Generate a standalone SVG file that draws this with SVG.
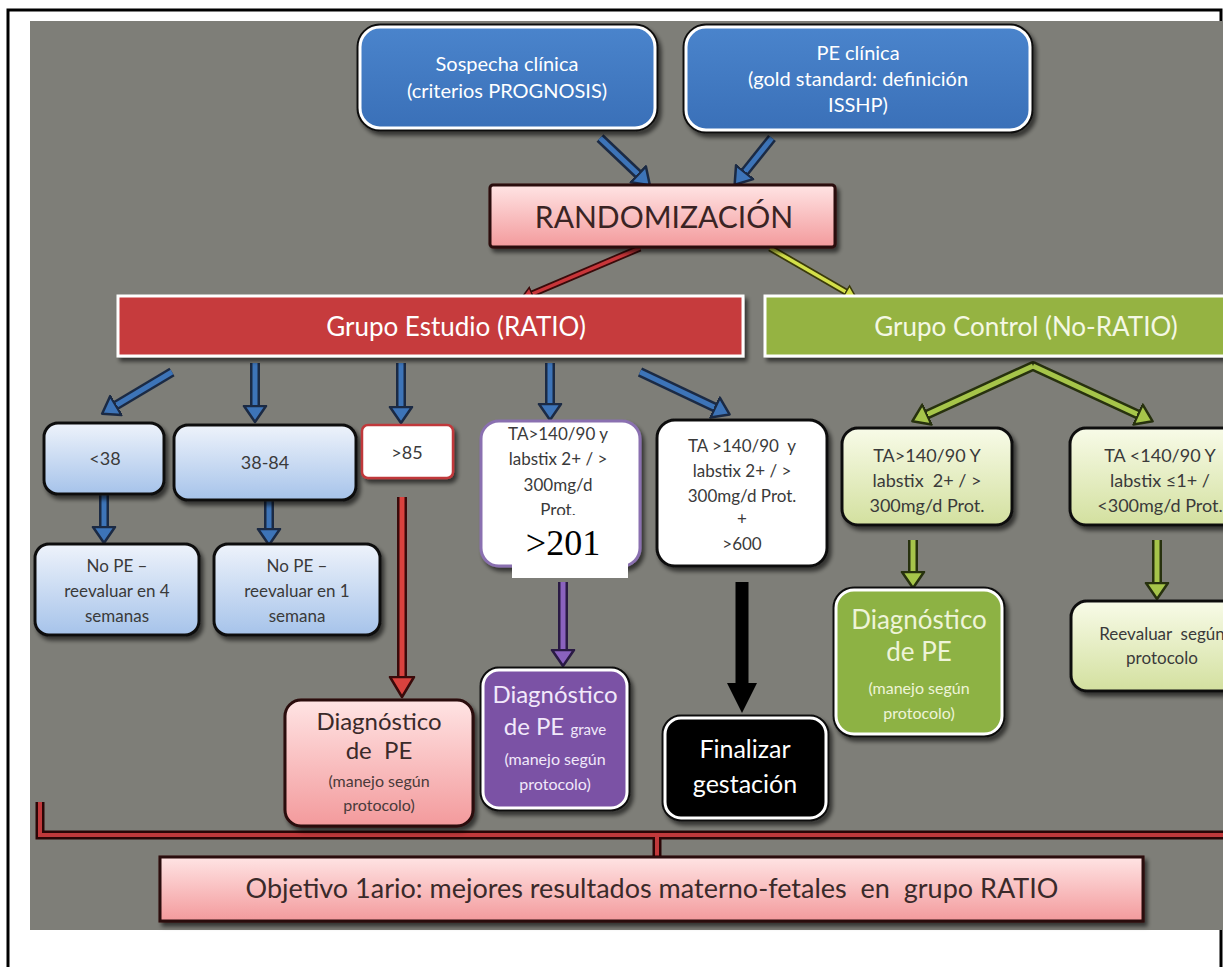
<svg xmlns="http://www.w3.org/2000/svg" width="1223" height="967" viewBox="0 0 1223 967">
<defs>
<style>
text{font-family:Lato,"Open Sans","DejaVu Sans",sans-serif;text-anchor:middle}
.ol{fill:none;stroke:#111;stroke-width:7}
.wb{stroke:#fff;stroke-width:3}
.tw{fill:#fff}
.td{fill:#3a3a3a}
.s20{font-size:20px}
.s18{font-size:18px}
.s17{font-size:17px}
.s16{font-size:16px}
.big{font-size:24px}
.sh{filter:url(#ds)}
.bo{fill:none;stroke:#1b2a44;stroke-width:10}
.bi{fill:none;stroke:#3d74b8;stroke-width:5}
.go{fill:none;stroke:#27310e;stroke-width:10}
.gi{fill:none;stroke:#a6c54a;stroke-width:5}
</style>
<filter id="ds" x="-10%" y="-10%" width="130%" height="140%">
<feDropShadow dx="3" dy="4" stdDeviation="2" flood-color="#000" flood-opacity="0.6"/>
</filter>
<linearGradient id="gPink" x1="0" y1="0" x2="0" y2="1"><stop offset="0" stop-color="#ffe4e4"/><stop offset="1" stop-color="#f39a9c"/></linearGradient>
<linearGradient id="gBlue" x1="0" y1="0" x2="0" y2="1"><stop offset="0" stop-color="#eef3fb"/><stop offset="1" stop-color="#a6c3ea"/></linearGradient>
<linearGradient id="gGreen" x1="0" y1="0" x2="0" y2="1"><stop offset="0" stop-color="#f8fbe8"/><stop offset="1" stop-color="#d3e09f"/></linearGradient>
<linearGradient id="gTop" x1="0" y1="0" x2="0" y2="1"><stop offset="0" stop-color="#4a84cc"/><stop offset="1" stop-color="#3a70b8"/></linearGradient>
<marker id="mBlue" markerUnits="userSpaceOnUse" markerWidth="26" markerHeight="26" viewBox="0 0 26 26" refX="2" refY="13" orient="auto"><path d="M1,2 L17,13 L1,24 z" fill="#3d74b8" stroke="#1b2a44" stroke-width="2.5" stroke-linejoin="round"/></marker>
<marker id="mGreen" markerUnits="userSpaceOnUse" markerWidth="26" markerHeight="26" viewBox="0 0 26 26" refX="2" refY="13" orient="auto"><path d="M1,2 L17,13 L1,24 z" fill="#a6c54a" stroke="#27310e" stroke-width="2.5" stroke-linejoin="round"/></marker>
<marker id="mPurple" markerUnits="userSpaceOnUse" markerWidth="26" markerHeight="26" viewBox="0 0 26 26" refX="2" refY="13" orient="auto"><path d="M1,2 L17,13 L1,24 z" fill="#8a62be" stroke="#2a1a44" stroke-width="2.5" stroke-linejoin="round"/></marker>
<marker id="mRedS" markerUnits="userSpaceOnUse" markerWidth="18" markerHeight="18" viewBox="0 0 18 18" refX="1" refY="9" orient="auto"><path d="M1,2 L13,9 L1,16 z" fill="#c8363a" stroke="#3a0a0a" stroke-width="1.5"/></marker>
<marker id="mYel" markerUnits="userSpaceOnUse" markerWidth="18" markerHeight="18" viewBox="0 0 18 18" refX="1" refY="9" orient="auto"><path d="M1,2 L13,9 L1,16 z" fill="#d4e04a" stroke="#3a3a0a" stroke-width="1.5"/></marker>
<marker id="mRed" markerUnits="userSpaceOnUse" markerWidth="30" markerHeight="30" viewBox="0 0 30 30" refX="2" refY="15" orient="auto"><path d="M1,3 L21,15 L1,27 z" fill="#d9423e" stroke="#3a0a0a" stroke-width="2.5" stroke-linejoin="round"/></marker>
<marker id="mBlack" markerUnits="userSpaceOnUse" markerWidth="36" markerHeight="36" viewBox="0 0 36 36" refX="2" refY="18" orient="auto"><path d="M1,3 L31,18 L1,33 z" fill="#000"/></marker>
</defs>

<!-- page frame -->
<rect x="0" y="0" width="1223" height="967" fill="#fff"/>
<rect x="30" y="21" width="1193" height="909" fill="#7e7e78"/>
<path d="M8,967 V10 H1221 V21 M1221,930 V967" fill="none" stroke="#000" stroke-width="3"/>

<!-- connectors -->
<g id="connectors">
<path class="bo" d="M600,138 L639,175"/><path class="bi" d="M600,138 L639,175" marker-end="url(#mBlue)"/>
<path class="bo" d="M772,138 L744,173"/><path class="bi" d="M772,138 L744,173" marker-end="url(#mBlue)"/>
<path d="M640,248 L532,294" fill="none" stroke="#3a0a0a" stroke-width="7"/><path d="M640,248 L532,294" fill="none" stroke="#c8363a" stroke-width="3.5" marker-end="url(#mRedS)"/>
<path d="M770,248 L846,292" fill="none" stroke="#3a3a0a" stroke-width="7"/><path d="M770,248 L846,292" fill="none" stroke="#d4e04a" stroke-width="3.5" marker-end="url(#mYel)"/>
<path class="bo" d="M172,372 L115,406"/><path class="bi" d="M172,372 L115,406" marker-end="url(#mBlue)"/>
<path class="bo" d="M255,363 V407"/><path class="bi" d="M255,363 V407" marker-end="url(#mBlue)"/>
<path class="bo" d="M401,363 V408"/><path class="bi" d="M401,363 V408" marker-end="url(#mBlue)"/>
<path class="bo" d="M550,363 V405"/><path class="bi" d="M550,363 V405" marker-end="url(#mBlue)"/>
<path class="bo" d="M640,372 L716,408"/><path class="bi" d="M640,372 L716,408" marker-end="url(#mBlue)"/>
<path class="bo" d="M104,494 V528"/><path class="bi" d="M104,494 V528" marker-end="url(#mBlue)"/>
<path class="bo" d="M269,500 V530"/><path class="bi" d="M269,500 V530" marker-end="url(#mBlue)"/>
<path d="M402,497 V678" fill="none" stroke="#3a0a0a" stroke-width="10"/><path d="M402,497 V678" fill="none" stroke="#d9423e" stroke-width="5" marker-end="url(#mRed)"/>
<path d="M563,582 V651" fill="none" stroke="#2a1a44" stroke-width="10"/><path d="M563,582 V651" fill="none" stroke="#8a62be" stroke-width="5" marker-end="url(#mPurple)"/>
<path d="M742,582 V684" fill="none" stroke="#000" stroke-width="13" marker-end="url(#mBlack)"/>
<path class="go" d="M926,415 L1033,366 L1139,415" stroke-linejoin="round"/><path class="gi" d="M1033,366 L926,415" marker-end="url(#mGreen)"/><path class="gi" d="M1033,366 L1139,415" marker-end="url(#mGreen)"/>
<path class="go" d="M913,540 V573"/><path class="gi" d="M913,540 V573" marker-end="url(#mGreen)"/>
<path class="go" d="M1157,540 V584"/><path class="gi" d="M1157,540 V584" marker-end="url(#mGreen)"/>
<path d="M40,802 V835 H1223 M657,835 V858" fill="none" stroke="#2a0606" stroke-width="9"/>
<path d="M40,802 V835 H1223 M657,835 V858" fill="none" stroke="#c0393b" stroke-width="4"/>
</g>

<!-- top boxes -->
<g id="n-sospecha">
<rect class="ol sh" x="360" y="27" width="295" height="101" rx="20"/>
<rect class="wb" x="360" y="27" width="295" height="101" rx="20" fill="url(#gTop)"/>
<text class="tw s20" x="507" y="71">Sospecha clínica</text>
<text class="tw s20" x="507" y="98">(criterios PROGNOSIS)</text>
</g>
<g id="n-peclinica">
<rect class="ol sh" x="686" y="27" width="344" height="103" rx="20"/>
<rect class="wb" x="686" y="27" width="344" height="103" rx="20" fill="url(#gTop)"/>
<text class="tw s20" x="858" y="60">PE clínica</text>
<text class="tw s20" x="858" y="86">(gold standard: definición</text>
<text class="tw s20" x="858" y="112">ISSHP)</text>
</g>

<g id="n-random">
<rect class="sh" x="490" y="185" width="345" height="62" rx="3" fill="url(#gPink)" stroke="#2a0a0a" stroke-width="3"/>
<text x="664" y="228" style="font-size:30px;fill:#3a2424">RANDOMIZACIÓN</text>
</g>

<g id="n-estudio">
<rect class="sh" x="118" y="296" width="625" height="60" fill="#c63b3c" stroke="#fff" stroke-width="3"/>
<text class="tw" x="456" y="336" style="font-size:26px">Grupo Estudio (RATIO)</text>
</g>
<g id="n-control">
<rect class="sh" x="765" y="296" width="470" height="60" fill="#95b342" stroke="#fff" stroke-width="3"/>
<text x="1026" y="336" style="font-size:26px;fill:#f4f8e4">Grupo Control (No-RATIO)</text>
</g>

<!-- study branch -->
<g id="n-lt38">
<rect class="sh" x="44" y="423" width="120" height="71" rx="14" fill="url(#gBlue)" stroke="#111" stroke-width="3"/>
<text class="td s18" x="105" y="465">&lt;38</text>
</g>
<g id="n-38-84">
<rect class="sh" x="174" y="425" width="182" height="75" rx="14" fill="url(#gBlue)" stroke="#111" stroke-width="3"/>
<text class="td s18" x="265" y="469">38-84</text>
</g>
<g id="n-gt85">
<rect class="sh" x="362" y="425" width="91" height="53" rx="6" fill="#fff" stroke="#c0393b" stroke-width="2.5"/>
<text class="td s18" x="407" y="459">&gt;85</text>
</g>
<g id="n-ta1">
<rect class="sh" x="481" y="421" width="159" height="145" rx="18" fill="#fff" stroke="#8a70b0" stroke-width="3"/>
<text class="td s17" x="558" y="440">TA&gt;140/90 y</text>
<text class="td s17" x="558" y="465">labstix 2+ / &gt;</text>
<text class="td s17" x="558" y="491">300mg/d</text>
<text class="td s17" x="558" y="516">Prot.</text>
<rect x="512" y="515" width="116" height="63" fill="#fff"/>
<text x="563" y="555" style="font-family:'Liberation Serif','Times New Roman',serif;font-size:36px;fill:#000">&gt;201</text>
</g>
<g id="n-ta2">
<rect class="sh" x="657" y="420" width="170" height="146" rx="18" fill="#fff" stroke="#111" stroke-width="3"/>
<text class="td s17" x="742" y="452" xml:space="preserve">TA &gt;140/90  y</text>
<text class="td s17" x="742" y="477">labstix 2+ / &gt;</text>
<text class="td s17" x="742" y="502">300mg/d Prot.</text>
<text class="td s17" x="742" y="525">+</text>
<text class="td s17" x="742" y="550">&gt;600</text>
</g>
<g id="n-nope4">
<rect class="sh" x="35" y="544" width="164" height="91" rx="14" fill="url(#gBlue)" stroke="#111" stroke-width="3"/>
<text class="td s17" x="117" y="572">No PE –</text>
<text class="td s17" x="117" y="597">reevaluar en 4</text>
<text class="td s17" x="117" y="622">semanas</text>
</g>
<g id="n-nope1">
<rect class="sh" x="214" y="544" width="166" height="91" rx="14" fill="url(#gBlue)" stroke="#111" stroke-width="3"/>
<text class="td s17" x="297" y="572">No PE –</text>
<text class="td s17" x="297" y="597">reevaluar en 1</text>
<text class="td s17" x="297" y="622">semana</text>
</g>
<g id="n-diagpe">
<rect class="sh" x="285" y="700" width="188" height="126" rx="16" fill="url(#gPink)" stroke="#2a0a0a" stroke-width="3"/>
<text class="big" x="379" y="730" style="fill:#3a2a2a">Diagnóstico</text>
<text class="big" x="379" y="759" style="fill:#3a2a2a" xml:space="preserve">de  PE</text>
<text class="s16" x="379" y="787" style="fill:#4a3a3a">(manejo según</text>
<text class="s16" x="379" y="811" style="fill:#4a3a3a">protocolo)</text>
</g>
<g id="n-diaggrave">
<rect class="ol sh" x="483" y="670" width="144" height="138" rx="16"/>
<rect class="wb" x="483" y="670" width="144" height="138" rx="16" fill="#7b52a5"/>
<text class="big" x="555" y="703" style="fill:#f1e8fa">Diagnóstico</text>
<text x="555" y="735" style="fill:#f1e8fa;font-size:24px">de PE <tspan style="font-size:15px">grave</tspan></text>
<text class="s16" x="555" y="765" style="fill:#f1e8fa">(manejo según</text>
<text class="s16" x="555" y="790" style="fill:#f1e8fa">protocolo)</text>
</g>
<g id="n-finalizar">
<rect class="ol sh" x="665" y="718" width="161" height="100" rx="16"/>
<rect class="wb" x="665" y="718" width="161" height="100" rx="16" fill="#000"/>
<text class="tw" x="745" y="758" style="font-size:25px">Finalizar</text>
<text class="tw" x="745" y="793" style="font-size:25px">gestación</text>
</g>

<!-- control branch -->
<g id="n-ta3">
<rect class="sh" x="842" y="428" width="170" height="97" rx="16" fill="url(#gGreen)" stroke="#111" stroke-width="3"/>
<text class="td s18" x="927" y="462">TA&gt;140/90 Y</text>
<text class="td s18" x="927" y="487" xml:space="preserve">labstix  2+ / &gt;</text>
<text class="td s18" x="927" y="512">300mg/d Prot.</text>
</g>
<g id="n-ta4">
<rect class="sh" x="1070" y="428" width="175" height="97" rx="16" fill="url(#gGreen)" stroke="#111" stroke-width="3"/>
<text class="td s18" x="1160" y="462">TA &lt;140/90 Y</text>
<text class="td s18" x="1160" y="487">labstix ≤1+ /</text>
<text class="td s18" x="1160" y="512">&lt;300mg/d Prot.</text>
</g>
<g id="n-diaggreen">
<rect class="ol sh" x="836" y="590" width="166" height="144" rx="18"/>
<rect class="wb" x="836" y="590" width="166" height="144" rx="18" fill="#8db244"/>
<text x="919" y="629" style="fill:#eef4d8;font-size:26px">Diagnóstico</text>
<text x="919" y="661" style="fill:#eef4d8;font-size:26px">de PE</text>
<text class="s16" x="919" y="694" style="fill:#eef4d8">(manejo según</text>
<text class="s16" x="919" y="719" style="fill:#eef4d8">protocolo)</text>
</g>
<g id="n-reevaluar">
<rect class="sh" x="1071" y="601" width="175" height="90" rx="16" fill="url(#gGreen)" stroke="#111" stroke-width="3"/>
<text class="td s17" x="1162" y="640" xml:space="preserve">Reevaluar  según</text>
<text class="td s17" x="1162" y="664">protocolo</text>
</g>

<g id="n-objetivo">
<rect class="sh" x="160" y="857" width="983" height="64" fill="url(#gPink)" stroke="#2a0a0a" stroke-width="3"/>
<text x="652" y="898" style="font-size:27px;fill:#3a2a2a" xml:space="preserve">Objetivo 1ario: mejores resultados materno-fetales  en  grupo RATIO</text>
</g>
</svg>
